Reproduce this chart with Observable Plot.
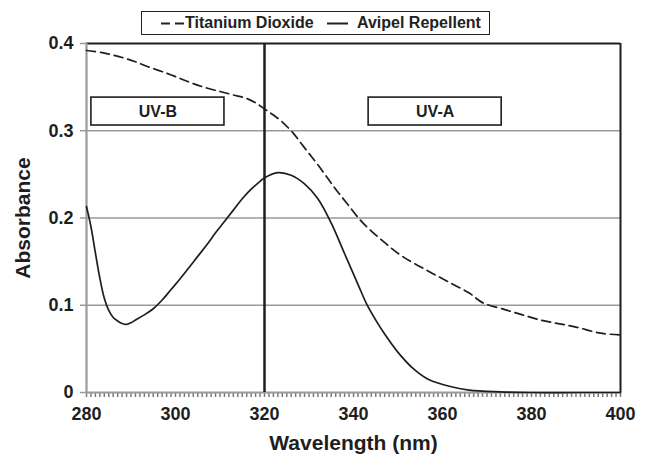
<!DOCTYPE html>
<html>
<head>
<meta charset="utf-8">
<script src="https://cdn.jsdelivr.net/npm/d3@7"></script>
<script src="https://cdn.jsdelivr.net/npm/@observablehq/plot@0.6"></script>
<style>
  html, body { margin: 0; padding: 0; background: #fff; }
  #wrap { position: relative; width: 646px; height: 455px; font-family: "Liberation Sans", Arial, sans-serif; }
  #legend { position: absolute; left: 141px; top: 11px; width: 349px; height: 24px; box-sizing: border-box;
            border: 1.5px solid #222; background: #fff; font-weight: bold; font-size: 16px; color: #222; }
  #legend svg { position: absolute; top: 10px; }
  #legend span { position: absolute; top: 1px; line-height: 20px; }
</style>
</head>
<body>
<div id="wrap">
  <div id="chart"></div>
  <div id="legend">
    <svg style="left:19px" width="25" height="3"><line x1="0" y1="1.5" x2="25" y2="1.5" stroke="#222" stroke-width="2" stroke-dasharray="9,5"/></svg>
    <span style="left:43px">Titanium Dioxide</span>
    <svg style="left:185px" width="21" height="3"><line x1="0" y1="1.5" x2="21" y2="1.5" stroke="#222" stroke-width="2"/></svg>
    <span style="left:215px">Avipel Repellent</span>
  </div>
</div>
<script>
// Avipel Repellent (solid)
const aviWl  = [280, 281, 282, 283, 284, 285, 286, 287, 288, 289, 290, 291, 293, 295, 297, 299, 301, 303, 305, 307, 309, 311, 313, 315, 317, 319, 320, 323, 326, 329, 332, 335, 338, 341, 343, 345, 347, 350, 353.5, 357, 362, 366, 373, 380, 390, 400];
const aviAbs = [0.213, 0.190, 0.160, 0.131, 0.108, 0.094, 0.086, 0.082, 0.079, 0.078, 0.080, 0.083, 0.089, 0.096, 0.106, 0.118, 0.130, 0.143, 0.156, 0.169, 0.183, 0.196, 0.209, 0.222, 0.233, 0.242, 0.246, 0.252, 0.249, 0.239, 0.222, 0.194, 0.159, 0.124, 0.101, 0.083, 0.067, 0.046, 0.027, 0.0145, 0.0066, 0.0028, 0.0008, 0, 0, 0];
// Titanium Dioxide (dashed)
const tioWl  = [280, 284, 288, 291, 294, 298, 301, 304, 307, 310, 313, 316, 318, 320, 322, 324, 326.5, 328, 330, 332, 334, 336, 338.5, 342, 346.5, 351, 356.5, 362, 366, 369, 374, 378, 382, 386, 390, 395.5, 400];
const tioAbs = [0.392, 0.389, 0.384, 0.379, 0.373, 0.366, 0.360, 0.354, 0.349, 0.345, 0.341, 0.337, 0.332, 0.325, 0.318, 0.310, 0.297, 0.287, 0.274, 0.261, 0.247, 0.233, 0.217, 0.195, 0.174, 0.156, 0.140, 0.125, 0.114, 0.103, 0.095, 0.089, 0.083, 0.079, 0.075, 0.068, 0.066];
// Region boxes
const bandLabels = ["UV-B", "UV-A"];
const bandX1 = [281.1, 343.4];
const bandX2 = [311.0, 373.3];
const bandY1 = [0.306, 0.306];
const bandY2 = [0.338, 0.338];
const divider = [320];
const yTicks = [0, 0.1, 0.2, 0.3, 0.4];
const xTicks = [280, 300, 320, 340, 360, 380, 400];
const xMinor = d3.range(280, 401, 1);

const avi = aviWl.map((x, i) => ({x, y: aviAbs[i]}));
const tio = tioWl.map((x, i) => ({x, y: tioAbs[i]}));
const bands = bandLabels.map((label, i) => ({label, x1: bandX1[i], x2: bandX2[i], y1: bandY1[i], y2: bandY2[i]}));

const gray = "#9a9a9a";
const ink = "#1e1e1e";
const W = 646, H = 455, mT = 43, mB = 63;
// minor tick length (5px) expressed in y units
const tickLen = 5 * 0.4 / (H - mT - mB);

const chart = Plot.plot({
  width: W,
  height: H,
  marginLeft: 86,
  marginRight: 26,
  marginTop: mT,
  marginBottom: mB,
  style: {fontFamily: "Liberation Sans, Arial, sans-serif", color: ink, background: "#fff"},
  x: {domain: [280, 400]},
  y: {domain: [0, 0.4]},
  marks: [
    Plot.ruleY([0.1, 0.2, 0.3], {stroke: gray, strokeWidth: 1.6}),
    Plot.ruleX(xMinor, {x: d => d, y1: 0, y2: -tickLen, stroke: "#7a7a7a", strokeWidth: 1.5}),
    Plot.axisX(xTicks, {tickSize: 0, tickPadding: 15, fontSize: 18, fontWeight: "bold", fill: ink, label: null}),
    Plot.axisY(yTicks, {tickSize: 6, tickPadding: 7, stroke: gray, strokeWidth: 1.5, fontSize: 18, fontWeight: "bold", fill: ink, label: null,
      tickFormat: d => d === 0 ? "0" : d3.format(".1f")(d)}),
    Plot.ruleY([0.4], {stroke: ink, strokeWidth: 1.8}),
    Plot.ruleX([400], {stroke: ink, strokeWidth: 2}),
    Plot.ruleX([280], {stroke: gray, strokeWidth: 2.2}),
    Plot.ruleY([0], {stroke: gray, strokeWidth: 2.2}),
    Plot.ruleX(divider, {stroke: ink, strokeWidth: 2.5}),
    Plot.line(tio, {x: "x", y: "y", stroke: ink, strokeWidth: 1.7, strokeDasharray: "9,5", curve: "catmull-rom"}),
    Plot.line(avi, {x: "x", y: "y", stroke: ink, strokeWidth: 1.7, curve: "catmull-rom"}),
    Plot.rect(bands, {x1: "x1", x2: "x2", y1: "y1", y2: "y2", fill: "#fff", stroke: ink, strokeWidth: 1.6}),
    Plot.text(bands, {x: d => (d.x1 + d.x2) / 2, y: d => (d.y1 + d.y2) / 2, text: "label", fontSize: 16, fontWeight: "bold", fill: ink}),
    Plot.text(["Wavelength (nm)"], {frameAnchor: "bottom", lineAnchor: "middle", textAnchor: "middle", dy: 51, fontSize: 21, fontWeight: "bold", fill: ink}),
    Plot.text(["Absorbance"], {frameAnchor: "left", lineAnchor: "middle", textAnchor: "middle", dx: -63, rotate: -90, fontSize: 21, fontWeight: "bold", fill: ink})
  ]
});
document.getElementById("chart").appendChild(chart);
</script>
</body>
</html>
